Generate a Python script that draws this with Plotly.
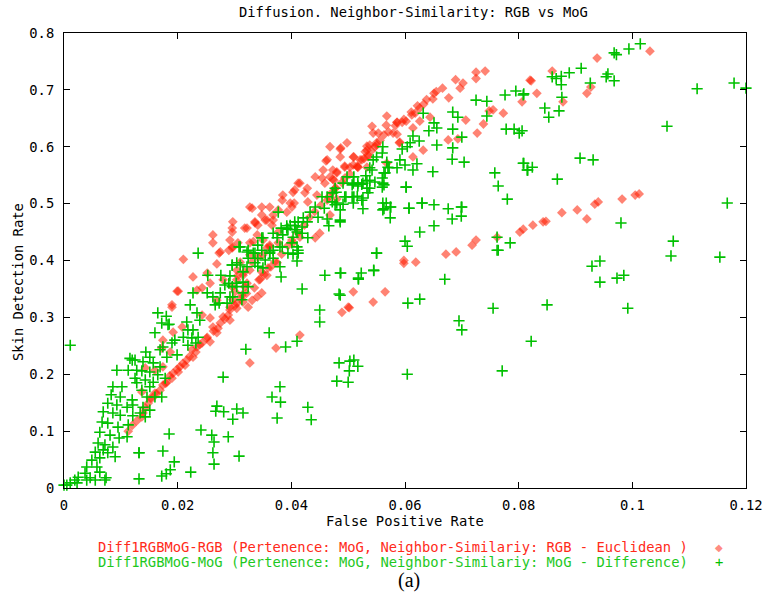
import plotly.graph_objects as go

# ---------------- data ----------------
# Series 1: Diff1RGBMoG-RGB  (False Positive Rate, Skin Detection Rate)
rgb_fpr = [
    0.0113, 0.0120, 0.0128, 0.0137, 0.0139, 0.0143, 0.0148, 0.0155, 0.0160, 0.0169,
    0.0174, 0.0181, 0.0190, 0.0192, 0.0201, 0.0204, 0.0213, 0.0216, 0.0227, 0.0225,
    0.0234, 0.0243, 0.0257, 0.0252, 0.0269, 0.0262, 0.0275, 0.0292, 0.0280, 0.0292,
    0.0304, 0.0315, 0.0331, 0.0340, 0.0348, 0.0324, 0.0304, 0.0292, 0.0297, 0.0313,
    0.0301, 0.0318, 0.0296, 0.0304, 0.0315, 0.0304, 0.0327, 0.0348, 0.0310, 0.0331,
    0.0327, 0.0350, 0.0362, 0.0357, 0.0296, 0.0306, 0.0327, 0.0340, 0.0377, 0.0366,
    0.0341, 0.0336, 0.0297, 0.0296, 0.0318, 0.0354, 0.0368, 0.0362, 0.0331, 0.0377,
    0.0392, 0.0401, 0.0384, 0.0385, 0.0429, 0.0463, 0.0445, 0.0424, 0.0428, 0.0406,
    0.0415, 0.0459, 0.0454, 0.0475, 0.0468, 0.0480, 0.0494, 0.0509, 0.0517, 0.0463,
    0.0486, 0.0510, 0.0468, 0.0498, 0.0533, 0.0535, 0.0550, 0.0538, 0.0521, 0.0533,
    0.0199, 0.0234, 0.0243, 0.0257, 0.0280, 0.0306, 0.0318, 0.0322, 0.0345, 0.0357,
    0.0190, 0.0243, 0.0257, 0.0269, 0.0208, 0.0192, 0.0174, 0.0172, 0.0187, 0.0143,
    0.0160, 0.0174, 0.0137, 0.0210, 0.0227, 0.0269, 0.0273, 0.0290, 0.0341, 0.0375,
    0.0359, 0.0252, 0.0201, 0.0190, 0.0262, 0.0296, 0.0292, 0.0333, 0.0350, 0.0377,
    0.0262, 0.0275, 0.0297, 0.0362, 0.0403, 0.0415, 0.0412, 0.0403, 0.0398, 0.0348,
    0.0327, 0.0348, 0.0368, 0.0336, 0.0322, 0.0357, 0.0450, 0.0442, 0.0468, 0.0405,
    0.0456, 0.0442, 0.0461, 0.0487, 0.0486, 0.0494, 0.0473, 0.0480, 0.0494, 0.0473,
    0.0477, 0.0472, 0.0480, 0.0503, 0.0509, 0.0524, 0.0517, 0.0535, 0.0530, 0.0547,
    0.0533, 0.0550, 0.0590, 0.0568, 0.0614, 0.0632,
    0.0553, 0.0542, 0.0544, 0.0563, 0.0579, 0.0586, 0.0567, 0.0568, 0.0586, 0.0595,
    0.0602, 0.0612, 0.0618, 0.0626, 0.0633, 0.0649, 0.0651, 0.0626, 0.0614, 0.0644,
    0.0677, 0.0697, 0.0702, 0.0725, 0.0725, 0.0741, 0.0591, 0.0586,
    0.0676, 0.0693, 0.0727, 0.0738, 0.0748, 0.0755, 0.0707, 0.0773, 0.0806, 0.0820,
    0.0822, 0.0832, 0.0859, 0.0878, 0.0920, 0.0927, 0.0938, 0.1031,
    0.0327, 0.0373, 0.0415, 0.0489, 0.0502, 0.0509, 0.0544, 0.0565, 0.0598, 0.0598,
    0.0619, 0.0672, 0.0690, 0.0718, 0.0725, 0.0762, 0.0802, 0.0808, 0.0825, 0.0843,
    0.0848, 0.0876, 0.0903, 0.0920, 0.0934, 0.0940, 0.0982, 0.1005, 0.1012, 0.0500,
    0.0152, 0.0163, 0.0179, 0.0186, 0.0199, 0.0209, 0.0221, 0.0232, 0.0239, 0.0251,
    0.0263, 0.0271, 0.0283, 0.0289, 0.0301, 0.0312, 0.0321, 0.0335, 0.0343, 0.0352,
    0.0364, 0.0371, 0.0383, 0.0394, 0.0401, 0.0411, 0.0423, 0.0432, 0.0441, 0.0452,
    0.0466, 0.0478, 0.0489, 0.0503, 0.0516, 0.0528, 0.0541, 0.0556, 0.0571, 0.0583,
    0.0598, 0.0611, 0.0622, 0.0638, 0.0655, 0.0666, 0.0689,
]
rgb_sdr = [
    0.100, 0.110, 0.118, 0.125, 0.132, 0.141, 0.149, 0.158, 0.167, 0.172,
    0.181, 0.186, 0.193, 0.202, 0.204, 0.213, 0.216, 0.225, 0.230, 0.243,
    0.248, 0.255, 0.257, 0.265, 0.273, 0.283, 0.290, 0.295, 0.301, 0.313,
    0.325, 0.327, 0.330, 0.336, 0.343, 0.318, 0.316, 0.318, 0.331, 0.339,
    0.345, 0.354, 0.354, 0.366, 0.374, 0.383, 0.383, 0.380, 0.397, 0.397,
    0.410, 0.410, 0.424, 0.422, 0.422, 0.431, 0.431, 0.445, 0.450, 0.462,
    0.462, 0.468, 0.468, 0.457, 0.457, 0.471, 0.471, 0.494, 0.492, 0.489,
    0.485, 0.494, 0.506, 0.515, 0.503, 0.506, 0.515, 0.519, 0.527, 0.524,
    0.536, 0.536, 0.545, 0.541, 0.547, 0.556, 0.564, 0.568, 0.564, 0.577,
    0.582, 0.582, 0.600, 0.607, 0.594, 0.585, 0.603, 0.603, 0.577, 0.564,
    0.346, 0.348, 0.352, 0.360, 0.366, 0.374, 0.380, 0.360, 0.367, 0.374,
    0.322, 0.304, 0.299, 0.330, 0.283, 0.274, 0.260, 0.246, 0.239, 0.211,
    0.207, 0.213, 0.169, 0.402, 0.371, 0.394, 0.413, 0.418, 0.406, 0.396,
    0.387, 0.378, 0.346, 0.318, 0.445, 0.450, 0.436, 0.433, 0.436, 0.431,
    0.431, 0.415, 0.424, 0.427, 0.431, 0.441, 0.536, 0.520, 0.501, 0.494,
    0.494, 0.480, 0.480, 0.466, 0.457, 0.471, 0.448, 0.440, 0.480, 0.501,
    0.559, 0.547, 0.575, 0.598, 0.596, 0.566, 0.559, 0.554, 0.545, 0.543,
    0.527, 0.520, 0.508, 0.564, 0.582, 0.577, 0.564, 0.582, 0.591, 0.600,
    0.601, 0.607, 0.607, 0.571, 0.582, 0.594,
    0.624, 0.636, 0.624, 0.621, 0.624, 0.622, 0.638, 0.654, 0.643, 0.643,
    0.645, 0.656, 0.659, 0.668, 0.675, 0.684, 0.694, 0.645, 0.633, 0.652,
    0.686, 0.703, 0.712, 0.720, 0.731, 0.733, 0.608, 0.643,
    0.612, 0.614, 0.624, 0.640, 0.663, 0.665, 0.647, 0.659, 0.679, 0.717,
    0.716, 0.694, 0.733, 0.679, 0.694, 0.705, 0.756, 0.768,
    0.220, 0.246, 0.269, 0.309, 0.317, 0.345, 0.327, 0.345, 0.395, 0.400,
    0.397, 0.411, 0.415, 0.427, 0.436, 0.441, 0.450, 0.455, 0.462, 0.468,
    0.469, 0.484, 0.489, 0.473, 0.499, 0.503, 0.508, 0.515, 0.517, 0.318,
    0.158, 0.166, 0.184, 0.197, 0.209, 0.219, 0.231, 0.239, 0.252, 0.263,
    0.276, 0.281, 0.297, 0.304, 0.321, 0.333, 0.342, 0.352, 0.366, 0.375,
    0.389, 0.398, 0.411, 0.426, 0.436, 0.449, 0.462, 0.476, 0.486, 0.497,
    0.512, 0.528, 0.537, 0.552, 0.566, 0.579, 0.593, 0.611, 0.626, 0.637,
    0.648, 0.661, 0.672, 0.683, 0.697, 0.703, 0.718,
]

# Series 2: Diff1RGBMoG-MoG
mog_fpr = [
    0.0000, 0.0005, 0.0011, 0.0019, 0.0023, 0.0025, 0.0037, 0.0040, 0.0040, 0.0046,
    0.0049, 0.0055, 0.0055, 0.0058, 0.0060, 0.0063, 0.0063, 0.0063, 0.0067, 0.0069,
    0.0069, 0.0072, 0.0072, 0.0074, 0.0077, 0.0077, 0.0077, 0.0081, 0.0083, 0.0086,
    0.0086, 0.0086, 0.0090, 0.0093, 0.0093, 0.0095, 0.0097, 0.0099, 0.0099, 0.0102,
    0.0111, 0.0111, 0.0113, 0.0113, 0.0116, 0.0120, 0.0120, 0.0121, 0.0121, 0.0125,
    0.0125, 0.0128, 0.0128, 0.0132, 0.0132, 0.0134, 0.0137, 0.0137, 0.0139, 0.0139,
    0.0143, 0.0143, 0.0144, 0.0146, 0.0151, 0.0151, 0.0151, 0.0151, 0.0157, 0.0157,
    0.0160, 0.0160, 0.0165, 0.0165, 0.0169, 0.0169, 0.0172, 0.0172, 0.0174, 0.0178,
    0.0180, 0.0181, 0.0183, 0.0185, 0.0190, 0.0195, 0.0199, 0.0210, 0.0216, 0.0218,
    0.0218, 0.0222, 0.0225, 0.0227, 0.0227, 0.0232, 0.0234, 0.0236, 0.0236, 0.0239,
    0.0252, 0.0253, 0.0262, 0.0266, 0.0273, 0.0275, 0.0276, 0.0283, 0.0287, 0.0290,
    0.0292, 0.0292, 0.0296, 0.0303, 0.0310, 0.0315,
    0.0296, 0.0297, 0.0304, 0.0313, 0.0315, 0.0324, 0.0315, 0.0322, 0.0304, 0.0296,
    0.0336, 0.0341, 0.0350, 0.0324, 0.0341, 0.0354, 0.0368, 0.0362, 0.0336, 0.0324,
    0.0348, 0.0308, 0.0380, 0.0382, 0.0368, 0.0380, 0.0375, 0.0350, 0.0385, 0.0403,
    0.0401, 0.0410, 0.0412, 0.0382, 0.0392, 0.0398, 0.0394, 0.0408, 0.0406, 0.0419,
    0.0419, 0.0429, 0.0412, 0.0421, 0.0428, 0.0433, 0.0447, 0.0463, 0.0466, 0.0486,
    0.0442, 0.0458, 0.0454, 0.0463, 0.0472, 0.0472, 0.0480, 0.0479, 0.0494, 0.0510,
    0.0524, 0.0491, 0.0509, 0.0517, 0.0526, 0.0538, 0.0547, 0.0563, 0.0533, 0.0510,
    0.0542, 0.0563, 0.0572, 0.0586, 0.0568, 0.0561, 0.0560, 0.0544, 0.0550, 0.0591,
    0.0621, 0.0600, 0.0570, 0.0614, 0.0538, 0.0565, 0.0560, 0.0531, 0.0533, 0.0561,
    0.0524, 0.0507, 0.0517, 0.0538, 0.0560, 0.0602, 0.0477, 0.0498, 0.0535, 0.0496,
    0.0507, 0.0516, 0.0526, 0.0473, 0.0477, 0.0491, 0.0509, 0.0526, 0.0561, 0.0575,
    0.0563, 0.0607, 0.0630, 0.0651, 0.0676, 0.0699, 0.0486, 0.0486, 0.0574, 0.0683,
    0.0651, 0.0642, 0.0656, 0.0632, 0.0614, 0.0625, 0.0609, 0.0604, 0.0595, 0.0656,
    0.0310, 0.0322, 0.0333, 0.0348, 0.0341, 0.0368, 0.0377, 0.0392, 0.0406, 0.0410,
    0.0384, 0.0362, 0.0394,
    0.0725, 0.0744, 0.0744, 0.0684, 0.0693, 0.0651, 0.0684, 0.0700, 0.0684, 0.0683,
    0.0704, 0.0776, 0.0795, 0.0808, 0.0778, 0.0792, 0.0801, 0.0808, 0.0816, 0.0758,
    0.0764, 0.0780, 0.0649, 0.0602, 0.0630, 0.0607, 0.0700, 0.0699, 0.0626, 0.0600,
    0.0604, 0.0550, 0.0762, 0.0785, 0.0762, 0.0567, 0.0574, 0.0561,
    0.1014, 0.0994, 0.0968, 0.0972, 0.0910, 0.0889, 0.0875, 0.0859, 0.0866, 0.0875,
    0.0926, 0.0954, 0.0957, 0.0968, 0.0809, 0.0876, 0.0846, 0.0871, 0.0853, 0.0806,
    0.1114, 0.1179, 0.1200, 0.1061, 0.0809, 0.0815, 0.0824, 0.0908, 0.0931, 0.0868,
    0.1167, 0.0980, 0.1072, 0.1068, 0.1154, 0.0943, 0.0929, 0.0943, 0.0973, 0.0985,
    0.0992, 0.0850, 0.0822, 0.0764,
    0.0403, 0.0410, 0.0459, 0.0487, 0.0523, 0.0518, 0.0545, 0.0550, 0.0419, 0.0484,
    0.0450, 0.0450, 0.0410, 0.0605, 0.0626, 0.0670, 0.0755, 0.0695, 0.0700, 0.0484,
    0.0503, 0.0510, 0.0517, 0.0502, 0.0480, 0.0500, 0.0604, 0.0771, 0.0429, 0.0435,
    0.0486, 0.0518, 0.0545, 0.0486, 0.0412,
    0.0011, 0.0361, 0.0320, 0.0390, 0.0280, 0.0380, 0.0366, 0.0381, 0.0375, 0.0269,
    0.0267, 0.0281, 0.0304, 0.0315, 0.0297, 0.0241, 0.0260, 0.0264, 0.0289, 0.0185,
    0.0262, 0.0264, 0.0308, 0.0174, 0.0194, 0.0187, 0.0180, 0.0172, 0.0223, 0.0132,
]
mog_sdr = [
    0.005, 0.005, 0.009, 0.014, 0.009, 0.019, 0.026, 0.014, 0.037, 0.018,
    0.049, 0.014, 0.063, 0.037, 0.079, 0.028, 0.053, 0.098, 0.116, 0.067,
    0.134, 0.076, 0.014, 0.018, 0.062, 0.114, 0.149, 0.093, 0.164, 0.072,
    0.132, 0.178, 0.055, 0.146, 0.207, 0.107, 0.088, 0.128, 0.160, 0.178,
    0.090, 0.142, 0.111, 0.207, 0.228, 0.155, 0.225, 0.127, 0.146, 0.193,
    0.225, 0.185, 0.207, 0.062, 0.016, 0.132, 0.172, 0.206, 0.142, 0.222,
    0.125, 0.190, 0.239, 0.160, 0.137, 0.178, 0.204, 0.230, 0.186, 0.220,
    0.160, 0.273, 0.199, 0.308, 0.213, 0.243, 0.160, 0.290, 0.248, 0.193,
    0.302, 0.230, 0.287, 0.288, 0.255, 0.260, 0.234, 0.265, 0.292, 0.251,
    0.278, 0.322, 0.264, 0.278, 0.343, 0.255, 0.308, 0.265, 0.413, 0.295,
    0.343, 0.374, 0.336, 0.322, 0.325, 0.343, 0.374, 0.357, 0.325, 0.360,
    0.336, 0.373, 0.392, 0.360, 0.392, 0.362,
    0.354, 0.336, 0.354, 0.331, 0.343, 0.354, 0.380, 0.389, 0.396, 0.392,
    0.396, 0.390, 0.387, 0.404, 0.404, 0.401, 0.404, 0.413, 0.413, 0.418,
    0.418, 0.424, 0.389, 0.371, 0.418, 0.424, 0.440, 0.440, 0.445, 0.441,
    0.431, 0.424, 0.413, 0.457, 0.461, 0.462, 0.455, 0.454, 0.461, 0.459,
    0.448, 0.440, 0.468, 0.475, 0.468, 0.485, 0.476, 0.473, 0.461, 0.468,
    0.494, 0.492, 0.512, 0.512, 0.519, 0.503, 0.501, 0.520, 0.512, 0.512,
    0.506, 0.536, 0.536, 0.536, 0.536, 0.541, 0.538, 0.533, 0.527, 0.547,
    0.559, 0.554, 0.563, 0.563, 0.573, 0.600, 0.589, 0.577, 0.582, 0.577,
    0.570, 0.568, 0.564, 0.559, 0.563, 0.554, 0.545, 0.549, 0.540, 0.536,
    0.534, 0.533, 0.531, 0.527, 0.529, 0.529, 0.527, 0.547, 0.519, 0.512,
    0.512, 0.513, 0.510, 0.519, 0.498, 0.499, 0.501, 0.491, 0.501, 0.494,
    0.491, 0.492, 0.501, 0.498, 0.491, 0.494, 0.489, 0.471, 0.475, 0.473,
    0.461, 0.628, 0.633, 0.659, 0.619, 0.610, 0.607, 0.600, 0.596, 0.603,
    0.424, 0.415, 0.413, 0.440, 0.427, 0.448, 0.485, 0.457, 0.468, 0.450,
    0.424, 0.415, 0.413,
    0.682, 0.680, 0.654, 0.661, 0.652, 0.642, 0.631, 0.617, 0.598, 0.578,
    0.573, 0.691, 0.698, 0.691, 0.631, 0.631, 0.624, 0.571, 0.559, 0.554,
    0.531, 0.508, 0.556, 0.529, 0.501, 0.492, 0.494, 0.478, 0.450, 0.434,
    0.425, 0.413, 0.441, 0.431, 0.418, 0.501, 0.494, 0.489,
    0.781, 0.772, 0.765, 0.762, 0.738, 0.730, 0.724, 0.723, 0.720, 0.709,
    0.712, 0.723, 0.728, 0.716, 0.693, 0.687, 0.668, 0.663, 0.652, 0.628,
    0.702, 0.712, 0.703, 0.636, 0.571, 0.559, 0.564, 0.580, 0.577, 0.543,
    0.501, 0.466, 0.434, 0.408, 0.406, 0.399, 0.390, 0.362, 0.369, 0.374,
    0.316, 0.322, 0.258, 0.418,
    0.411, 0.399, 0.374, 0.378, 0.378, 0.367, 0.382, 0.413, 0.350, 0.341,
    0.313, 0.292, 0.258, 0.325, 0.332, 0.367, 0.316, 0.294, 0.278, 0.220,
    0.223, 0.225, 0.214, 0.206, 0.188, 0.186, 0.200, 0.206, 0.142, 0.120,
    0.378, 0.369, 0.383, 0.339, 0.418,
    0.251, 0.273, 0.244, 0.248, 0.195, 0.178, 0.160, 0.151, 0.123, 0.144,
    0.135, 0.134, 0.139, 0.132, 0.121, 0.102, 0.093, 0.081, 0.090, 0.095,
    0.062, 0.042, 0.056, 0.065, 0.046, 0.032, 0.025, 0.021, 0.028, 0.062,
]

x_ticks = [0, 0.02, 0.04, 0.06, 0.08, 0.1, 0.12]
x_tick_text = ["0", "0.02", "0.04", "0.06", "0.08", "0.1", "0.12"]
y_ticks = [0, 0.1, 0.2, 0.3, 0.4, 0.5, 0.6, 0.7, 0.8]
y_tick_text = ["0", "0.1", "0.2", "0.3", "0.4", "0.5", "0.6", "0.7", "0.8"]

title_text = "Diffusion. Neighbor-Similarity: RGB vs MoG"
x_title = "False Positive Rate"
y_title = "Skin Detection Rate"
rgb_label = "Diff1RGBMoG-RGB (Pertenence: MoG, Neighbor-Similariy: RGB - Euclidean )"
mog_label = "Diff1RGBMoG-MoG (Pertenence: MoG, Neighbor-Similariy: MoG - Difference)"
caption = "(a)"

# ---------------- styling / layout ----------------
W, H = 763, 597
L, R, T, B = 64, 746, 33, 488
MONO = "DejaVu Sans Mono"
FS = 13.8
RED = "#ff1e00"
GREEN = "#00c000"


def px(x):
    return (x - L) / (R - L)


def py(y):
    return (B - y) / (B - T)


fig = go.Figure()
fig.add_trace(go.Scatter(
    x=rgb_fpr, y=rgb_sdr, mode="markers", name=rgb_label,
    marker=dict(symbol="diamond", size=7.5, color=RED, opacity=0.55,
                line=dict(width=0)),
    cliponaxis=False, showlegend=False,
))
fig.add_trace(go.Scatter(
    x=mog_fpr, y=mog_sdr, mode="markers", name=mog_label,
    marker=dict(symbol="cross-thin", size=8, color=GREEN,
                line=dict(width=1.6, color=GREEN)),
    cliponaxis=False, showlegend=False,
))

axis_common = dict(
    showgrid=False, zeroline=False, showline=True, linecolor="black",
    linewidth=1, mirror="allticks", ticks="inside", ticklen=6,
    tickcolor="black", tickwidth=1, automargin=False,
    tickfont=dict(family=MONO, size=FS, color="black"),
)
fig.update_xaxes(range=[0, 0.12], tickvals=x_ticks, ticktext=x_tick_text,
                 ticklabelstandoff=4, **axis_common)
fig.update_yaxes(range=[0, 0.8], tickvals=y_ticks, ticktext=y_tick_text,
                 ticklabelstandoff=6, **axis_common)

ann = [
    dict(text=title_text, x=px(413), y=py(12), xanchor="center", yanchor="middle",
         font=dict(family=MONO, size=FS, color="black")),
    dict(text=x_title, x=px(405), y=py(521), xanchor="center", yanchor="middle",
         font=dict(family=MONO, size=FS, color="black")),
    dict(text=y_title, x=px(18), y=py(282), xanchor="center", yanchor="middle",
         textangle=-90, font=dict(family=MONO, size=FS, color="black")),
    dict(text=rgb_label, x=px(96), y=py(547), xanchor="left", yanchor="middle",
         font=dict(family=MONO, size=FS, color="#ff2a1a")),
    dict(text=mog_label, x=px(96), y=py(562), xanchor="left", yanchor="middle",
         font=dict(family=MONO, size=FS, color="#1ec81e")),
    dict(text="◆", x=px(719), y=py(547), xanchor="center", yanchor="middle",
         font=dict(family="DejaVu Sans", size=10, color="rgba(255,40,20,0.55)")),
    dict(text="+", x=px(719), y=py(562), xanchor="center", yanchor="middle",
         font=dict(family=MONO, size=FS, color=GREEN)),
    dict(text=caption, x=px(409), y=py(580), xanchor="center", yanchor="middle",
         font=dict(family="Liberation Serif", size=20, color="black")),
]
for a in ann:
    a.update(xref="paper", yref="paper", showarrow=False)

fig.update_layout(
    width=W, height=H,
    margin=dict(l=L, r=W - R, t=T, b=H - B, pad=0, autoexpand=False),
    paper_bgcolor="white", plot_bgcolor="white",
    annotations=ann, showlegend=False,
)

fig.write_html("out.html")
